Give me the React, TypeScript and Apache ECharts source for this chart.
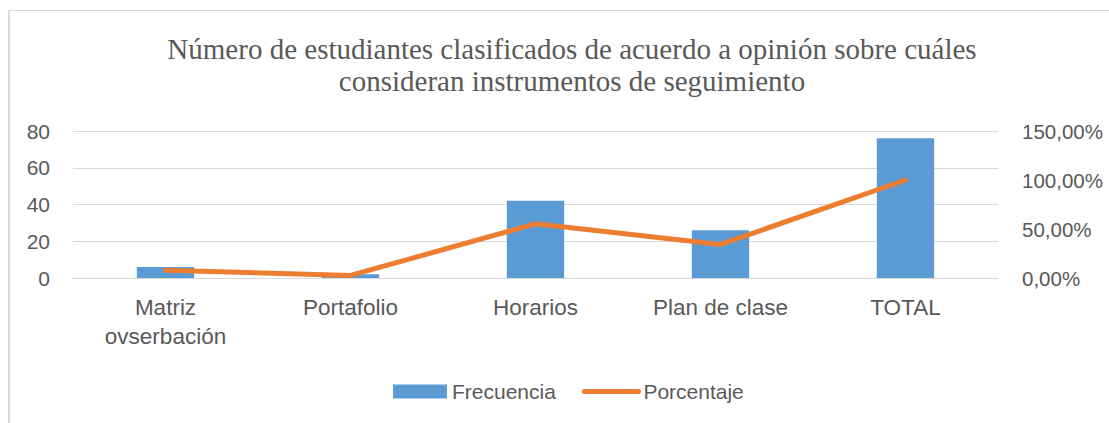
import React, { useEffect, useRef } from "react";
import * as echarts from "echarts";

const categories = ["Matriz\novserbación", "Portafolio", "Horarios", "Plan de clase", "TOTAL"];
const frecuencia = [6, 2, 42, 26, 76];
const porcentaje = [7.89, 2.63, 55.26, 34.21, 100];
const leftTicks = { min: 0, max: 80, interval: 20 };
const rightTicks = { min: 0, max: 150, interval: 50 };

export default function App() {
  const ref = useRef<HTMLDivElement>(null);
  useEffect(() => {
    const chart = echarts.init(ref.current!, null, { renderer: "svg" });
    const sans = "Liberation Sans";
    const gray = "#595959";
    chart.setOption({
      animation: false,
      backgroundColor: "#ffffff",
      title: {
        text: "Número de estudiantes clasificados de acuerdo a opinión sobre cuáles\nconsideran instrumentos de seguimiento",
        left: 567,
        top: 28,
        textAlign: "center",
        textStyle: {
          fontFamily: "Liberation Serif",
          fontSize: 29,
          fontWeight: "normal",
          color: gray,
          lineHeight: 32,
        },
      },
      graphic: [
        { type: "line", shape: { x1: 9, y1: 10, x2: 9, y2: 423 }, style: { stroke: "#d9d9d9", lineWidth: 2 } },
        { type: "line", shape: { x1: 8, y1: 10.5, x2: 1109, y2: 10.5 }, style: { stroke: "#d9d9d9", lineWidth: 1 } },
      ],
      legend: {
        bottom: 16,
        left: 388,
        itemWidth: 54,
        itemHeight: 14,
        itemGap: 26,
        textStyle: { fontFamily: sans, fontSize: 21, color: gray },
        data: [
          { name: "Frecuencia", icon: "rect" },
          {
            name: "Porcentaje",
            itemStyle: { color: "rgba(0,0,0,0)", borderWidth: 0, opacity: 0 },
            lineStyle: { color: "#ed7d31", width: 5, cap: "round" },
          },
        ],
      },
      grid: { left: 73, right: 111, top: 131, bottom: 145 },
      xAxis: {
        type: "category",
        data: categories,
        axisLine: { show: true, lineStyle: { color: "#d9d9d9", width: 1 } },
        axisTick: { show: false },
        axisLabel: {
          fontFamily: sans,
          fontSize: 22.5,
          color: gray,
          margin: 15,
          lineHeight: 29,
          interval: 0,
        },
      },
      yAxis: [
        {
          type: "value",
          ...leftTicks,
          axisLine: { show: false },
          axisTick: { show: false },
          splitLine: { lineStyle: { color: "#d9d9d9", width: 1 } },
          axisLabel: { fontFamily: sans, fontSize: 21, color: gray, margin: 23 },
        },
        {
          type: "value",
          ...rightTicks,
          axisLine: { show: false },
          axisTick: { show: false },
          splitLine: { show: false },
          axisLabel: {
            fontFamily: sans,
            fontSize: 20.5,
            color: gray,
            margin: 24,
            formatter: (v: number) => v.toFixed(2).replace(".", ",") + "%",
          },
        },
      ],
      series: [
        {
          name: "Frecuencia",
          type: "bar",
          data: frecuencia,
          barWidth: "31%",
          itemStyle: { color: "#5b9bd5" },
        },
        {
          name: "Porcentaje",
          type: "line",
          yAxisIndex: 1,
          data: porcentaje,
          symbol: "none",
          lineStyle: { color: "#ed7d31", width: 5, cap: "round", join: "round" },
          itemStyle: { color: "#ed7d31" },
        },
      ],
    });
    return () => chart.dispose();
  }, []);
  return (
    <div
      ref={ref}
      style={{ position: "fixed", left: 0, top: 0, width: 1109, height: 423 }}
    />
  );
}
